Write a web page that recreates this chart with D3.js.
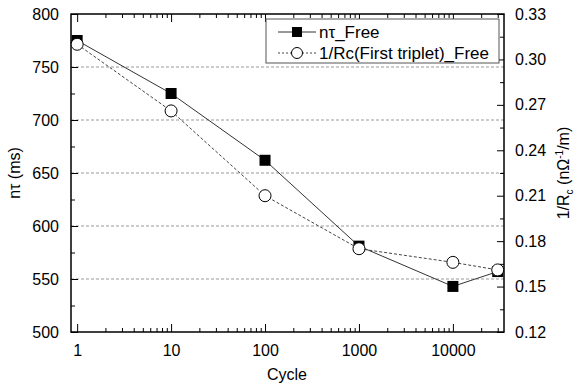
<!DOCTYPE html>
<html><head><meta charset="utf-8">
<script src="https://cdn.jsdelivr.net/npm/d3@7"></script>
<style>body{margin:0;background:#fff}svg{font-family:"Liberation Sans",Arial,sans-serif;display:block}</style>
</head><body><svg id="c" width="578" height="385"></svg>
<script>
const cycles = [1, 10, 100, 1000, 10000, 30000];
const ntFree = [775, 725, 662, 581, 543, 557];
const invRc = [0.310, 0.266, 0.210, 0.175, 0.166, 0.161];
const xTicks = [1, 10, 100, 1000, 10000];
const yLeftTicks = [500, 550, 600, 650, 700, 750, 800];
const yRightTicks = [0.12, 0.15, 0.18, 0.21, 0.24, 0.27, 0.30, 0.33];
const gridValues = [550, 600, 650, 700, 750];
const seriesNames = ["nτ_Free", "1/Rc(First triplet)_Free"];

const L = 71, R = 504, T = 14, B = 332;
const svg = d3.select("#c");
const x = d3.scaleLog().domain([0.86, 35000]).range([L, R]);
const yL = d3.scaleLinear().domain([500, 800]).range([B, T]);
const yR = d3.scaleLinear().domain([0.12, 0.33]).range([B, T]);

const xMinor = [];
for (let e = 0; e <= 4; e++) for (let m = 2; m <= 9; m++) { const v = m * Math.pow(10, e); if (v <= 35000) xMinor.push(v); }
const yLMinor = d3.range(525, 800, 50);
const yRMinor = d3.range(0, 7).map(i => 0.135 + i * 0.03);

svg.append("g").selectAll("line").data(gridValues).join("line")
  .attr("x1", L).attr("x2", R).attr("y1", d => yL(d)).attr("y2", d => yL(d))
  .attr("stroke", "#999").attr("stroke-width", 1).attr("stroke-dasharray", "3,2");

function styleAxis(g) {
  g.select(".domain").remove();
  g.selectAll("line").attr("stroke", "#000").attr("stroke-width", 1);
  g.selectAll("text").attr("font-size", 16).attr("fill", "#000");
}
svg.append("g").attr("transform", `translate(0,${B})`)
  .call(d3.axisBottom(x).tickValues(xTicks).tickFormat(d3.format("d")).tickSize(-8).tickPadding(13)).call(styleAxis);
svg.append("g").attr("transform", `translate(0,${B})`)
  .call(d3.axisBottom(x).tickValues(xMinor).tickFormat("").tickSize(-4)).call(styleAxis);
svg.append("g").attr("transform", `translate(0,${T})`)
  .call(d3.axisTop(x).tickValues(xTicks).tickFormat("").tickSize(-8)).call(styleAxis);
svg.append("g").attr("transform", `translate(0,${T})`)
  .call(d3.axisTop(x).tickValues(xMinor).tickFormat("").tickSize(-4)).call(styleAxis);
svg.append("g").attr("transform", `translate(${L},0)`)
  .call(d3.axisLeft(yL).tickValues(yLeftTicks).tickSize(-7).tickPadding(12)).call(styleAxis);
svg.append("g").attr("transform", `translate(${L},0)`)
  .call(d3.axisLeft(yL).tickValues(yLMinor).tickFormat("").tickSize(-4)).call(styleAxis);
svg.append("g").attr("transform", `translate(${R},0)`)
  .call(d3.axisRight(yR).tickValues(yRightTicks).tickFormat(d3.format(".2f")).tickSize(-7).tickPadding(11)).call(styleAxis);
svg.append("g").attr("transform", `translate(${R},0)`)
  .call(d3.axisRight(yR).tickValues(yRMinor).tickFormat("").tickSize(-4)).call(styleAxis);

svg.append("rect").attr("x", L).attr("y", T).attr("width", R - L).attr("height", B - T)
  .attr("fill", "none").attr("stroke", "#000").attr("stroke-width", 1.5);

const s1 = cycles.map((c, i) => [x(c), yL(ntFree[i])]);
const s2 = cycles.map((c, i) => [x(c), yR(invRc[i])]);
svg.append("path").attr("d", d3.line()(s1)).attr("fill", "none").attr("stroke", "#333").attr("stroke-width", 1);
svg.append("path").attr("d", d3.line()(s2)).attr("fill", "none").attr("stroke", "#444").attr("stroke-width", 1).attr("stroke-dasharray", "3,2");
svg.append("g").selectAll("rect").data(s1).join("rect")
  .attr("x", d => d[0] - 5.5).attr("y", d => d[1] - 5.5).attr("width", 11).attr("height", 11).attr("fill", "#000");
svg.append("g").selectAll("circle").data(s2).join("circle")
  .attr("cx", d => d[0]).attr("cy", d => d[1]).attr("r", 6).attr("fill", "#fff").attr("stroke", "#000").attr("stroke-width", 1);

const lg = svg.append("g");
lg.append("rect").attr("x", 266).attr("y", 19).attr("width", 233).attr("height", 44).attr("fill", "#fff").attr("stroke", "#555").attr("stroke-width", 1);
lg.append("line").attr("x1", 278).attr("x2", 316).attr("y1", 32).attr("y2", 32).attr("stroke", "#333");
lg.append("rect").attr("x", 292).attr("y", 27).attr("width", 10).attr("height", 10).attr("fill", "#000");
lg.append("line").attr("x1", 278).attr("x2", 316).attr("y1", 53).attr("y2", 53).attr("stroke", "#444").attr("stroke-dasharray", "2,2");
lg.append("circle").attr("cx", 297).attr("cy", 53).attr("r", 5.5).attr("fill", "#fff").attr("stroke", "#000");
lg.selectAll("text").data(seriesNames).join("text")
  .attr("x", 319).attr("y", (d, i) => 38 + i * 21).attr("font-size", 17).text(d => d);

svg.append("text").attr("x", 287).attr("y", 380).attr("text-anchor", "middle").attr("font-size", 16).text("Cycle");
svg.append("text").attr("transform", `translate(20,${(T + B) / 2}) rotate(-90)`).attr("text-anchor", "middle").attr("font-size", 16).text("nτ (ms)");
const rt = svg.append("text").attr("transform", `translate(569,${(T + B) / 2}) rotate(-90)`).attr("text-anchor", "middle").attr("font-size", 16);
rt.append("tspan").text("1/R");
rt.append("tspan").attr("font-size", 10).attr("dy", 4).text("c");
rt.append("tspan").attr("dy", -4).text(" (nΩ");
rt.append("tspan").attr("font-size", 10).attr("dy", -6).text("-1");
rt.append("tspan").attr("dy", 6).text("/m)");
</script></body></html>
